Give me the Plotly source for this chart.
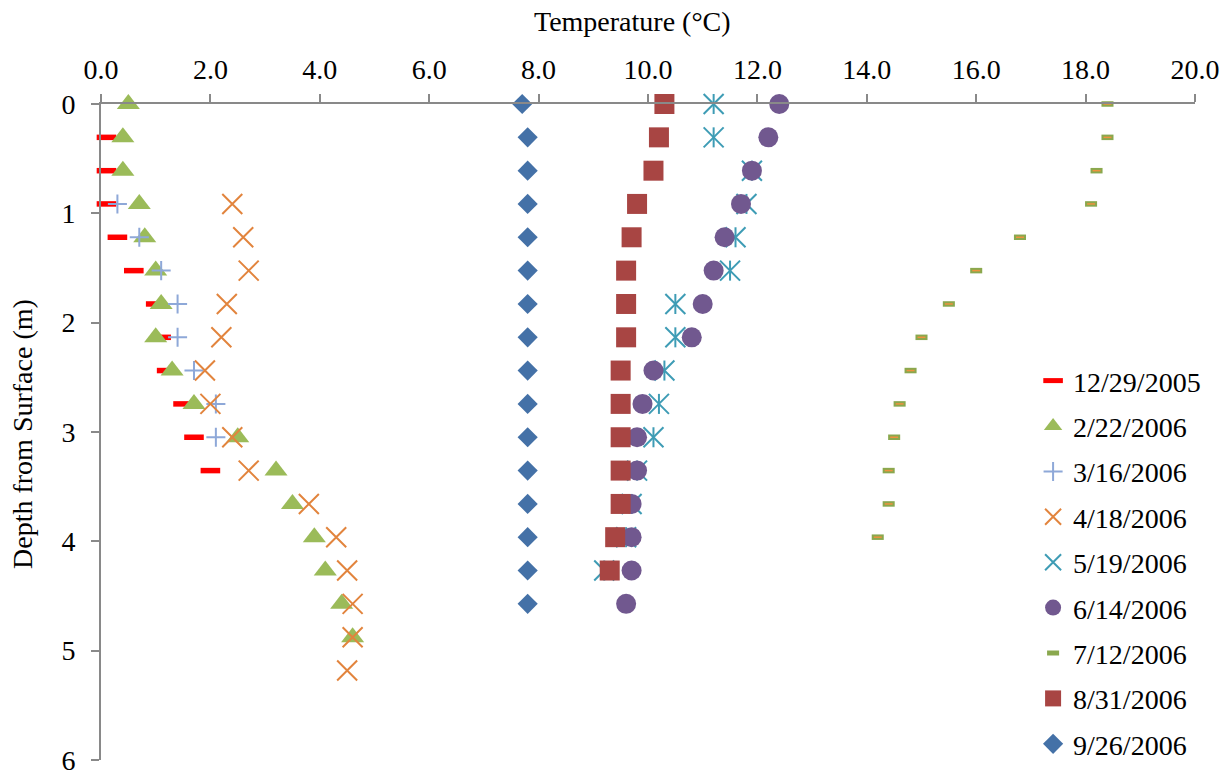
import plotly.graph_objects as go

# Sampling depths below the surface (m), one reading per foot
depth_m = [0.0, 0.305, 0.61, 0.914, 1.219, 1.524, 1.829, 2.134, 2.438,
           2.743, 3.048, 3.353, 3.658, 3.962, 4.267, 4.572, 4.877, 5.182]

# Temperature profiles (°C) per survey date; None = no reading at that depth
t_2005_12_29 = [None, 0.1, 0.1, 0.1, 0.3, 0.6, 1.0, 1.1, 1.2, 1.5, 1.7, 2.0,
                None, None, None, None, None, None]
t_2006_02_22 = [0.5, 0.4, 0.4, 0.7, 0.8, 1.0, 1.1, 1.0, 1.3, 1.7, 2.5, 3.2,
                3.5, 3.9, 4.1, 4.4, 4.6, None]
t_2006_03_16 = [None, None, None, 0.3, 0.7, 1.1, 1.4, 1.4, 1.7, 2.1, 2.1, None,
                None, None, None, None, None, None]
t_2006_04_18 = [None, None, None, 2.4, 2.6, 2.7, 2.3, 2.2, 1.9, 2.0, 2.4, 2.7,
                3.8, 4.3, 4.5, 4.6, 4.6, 4.5]
t_2006_05_19 = [11.2, 11.2, 11.9, 11.8, 11.6, 11.5, 10.5, 10.5, 10.3, 10.2, 10.1, 9.8,
                9.7, 9.6, 9.2, None, None, None]
t_2006_06_14 = [12.4, 12.2, 11.9, 11.7, 11.4, 11.2, 11.0, 10.8, 10.1, 9.9, 9.8, 9.8,
                9.7, 9.7, 9.7, 9.6, None, None]
t_2006_07_12 = [18.4, 18.4, 18.2, 18.1, 16.8, 16.0, 15.5, 15.0, 14.8, 14.6, 14.5, 14.4,
                14.4, 14.2, None, None, None, None]
t_2006_08_31 = [10.3, 10.2, 10.1, 9.8, 9.7, 9.6, 9.6, 9.6, 9.5, 9.5, 9.5, 9.5,
                9.5, 9.4, 9.3, None, None, None]
t_2006_09_26 = [7.7, 7.8, 7.8, 7.8, 7.8, 7.8, 7.8, 7.8, 7.8, 7.8, 7.8, 7.8,
                7.8, 7.8, 7.8, 7.8, None, None]

x_ticks = [0, 2, 4, 6, 8, 10, 12, 14, 16, 18, 20]
y_ticks = [0, 1, 2, 3, 4, 5, 6]

FONT = "Liberation Serif, Times New Roman, DejaVu Serif, serif"
AXIS = "#898989"

fig = go.Figure()


def add(name, temps, symbol, size, color, lw=0, show=True):
    fig.add_trace(go.Scatter(
        x=temps, y=depth_m, mode="markers", name=name,
        legendgroup=name, showlegend=show, cliponaxis=False,
        marker=dict(symbol=symbol, size=size, color=color,
                    line=dict(width=lw, color=color)),
        hoverinfo="x+y+name",
    ))


add("12/29/2005", t_2005_12_29, "line-ew", 14, "#ff0000", lw=5.5)
add("2/22/2006", t_2006_02_22, "triangle-up", 20, "#9bbb59")
add("3/16/2006", t_2006_03_16, "cross-thin", 13.6, "#8ea8d8", lw=2)
add("4/18/2006", t_2006_04_18, "x-thin", 20, "#e2843d", lw=2)
# star marker: a diagonal cross plus a vertical stroke
add("5/19/2006", t_2006_05_19, "x-thin", 20, "#3e9cb5", lw=2)
add("5/19/2006", t_2006_05_19, "line-ns", 14.3, "#3e9cb5", lw=2, show=False)
add("6/14/2006", t_2006_06_14, "circle", 20, "#71588f")
# small green bar with an orange centre stroke
add("7/12/2006", t_2006_07_12, "line-ew", 8.6, "#8aa84e", lw=5.5)
add("7/12/2006", t_2006_07_12, "line-ew", 5.7, "#f0923e", lw=1.5, show=False)
add("8/31/2006", t_2006_08_31, "square", 20, "#a84543")
add("9/26/2006", t_2006_09_26, "diamond", 15.5, "#4471a7")

axis_common = dict(
    showline=True, linecolor=AXIS, linewidth=2,
    ticks="outside", ticklen=8, tickwidth=2, tickcolor=AXIS,
    showgrid=False, zeroline=False, ticklabeloverflow="allow",
    tickfont=dict(family=FONT, size=28, color="#000000"),
)

fig.update_xaxes(range=[0, 20], side="top", tickvals=x_ticks,
                 ticktext=[f"{v:.1f}" for v in x_ticks],
                 ticklabelstandoff=4, **axis_common)
fig.update_yaxes(range=[6, 0], tickvals=y_ticks,
                 ticktext=[str(v) for v in y_ticks],
                 ticklabelstandoff=10, **axis_common)

fig.update_layout(
    width=1229, height=771,
    margin=dict(l=101, r=34, t=104, b=11, autoexpand=False),
    paper_bgcolor="white", plot_bgcolor="white",
    font=dict(family=FONT, size=28, color="#000000"),
    legend=dict(x=0.852, y=0.616, xanchor="left", yanchor="top",
                bgcolor="rgba(0,0,0,0)", borderwidth=0,
                tracegroupgap=6, font=dict(family=FONT, size=28)),
    annotations=[
        dict(text="Temperature (°C)", xref="paper", yref="paper",
             x=0.4854, y=1.1265, xanchor="center", yanchor="middle",
             showarrow=False, font=dict(family=FONT, size=28)),
        dict(text="Depth from Surface (m)", xref="paper", yref="paper",
             x=-0.0713, y=0.497, xanchor="center", yanchor="middle",
             textangle=-90, showarrow=False, font=dict(family=FONT, size=28)),
    ],
)

fig.write_html("out.html")
